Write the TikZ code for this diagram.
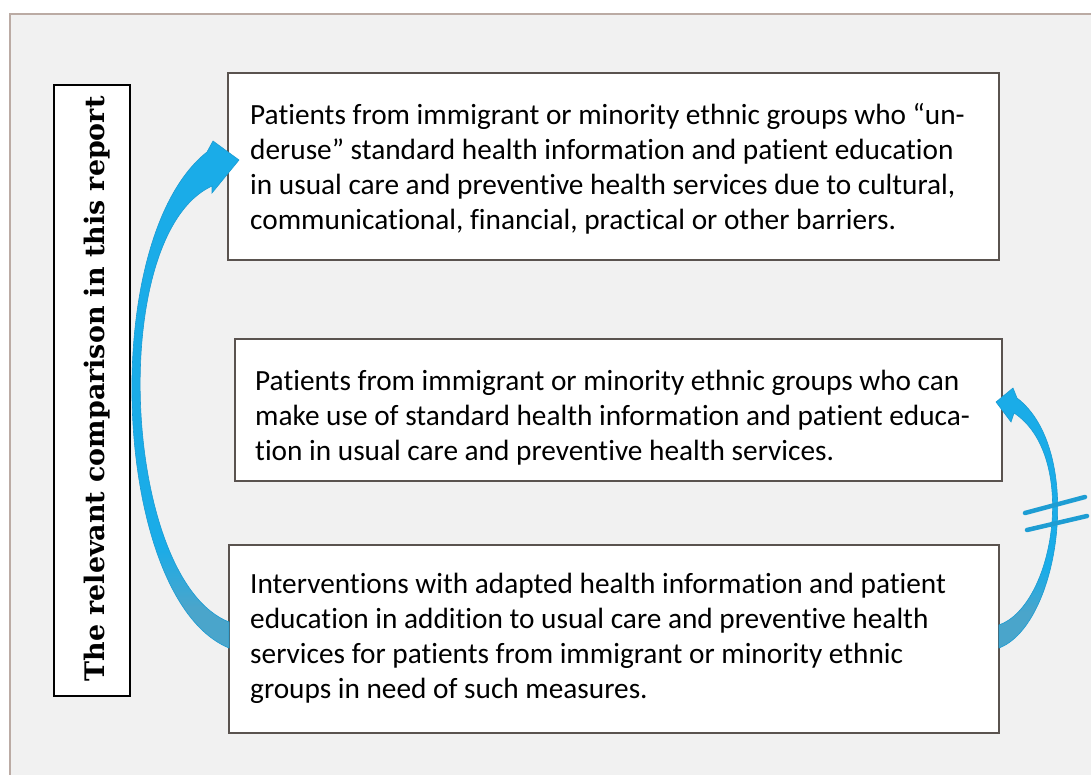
\documentclass[tikz,border=0pt]{standalone}
\usepackage{fontspec}
\setmainfont{Carlito}[Ligatures={TeX,NoCommon}]
\newfontfamily\labelfont{DejaVu Serif}

\definecolor{panel}{HTML}{F1F1F1}
\definecolor{framec}{HTML}{BBABA4}
\definecolor{boxline}{HTML}{5A534F}
\definecolor{arrowblue}{HTML}{1AACE8}
\definecolor{arrowteal}{HTML}{4AA5CB}
\definecolor{arrowedge}{HTML}{1B9BD2}
\definecolor{barblue}{HTML}{1E9DD3}

% shadings for the two curved block arrows (darker tail at the bottom)
\pgfdeclareverticalshading{leftshade}{100bp}{color(0bp)=(arrowteal); color(29bp)=(arrowteal); color(35bp)=(arrowblue); color(100bp)=(arrowblue)}
\pgfdeclareverticalshading{rightshade}{100bp}{color(0bp)=(arrowteal); color(32bp)=(arrowteal); color(40bp)=(arrowblue); color(100bp)=(arrowblue)}

\tikzset{
  textbox/.style={draw=boxline, line width=1.6pt, fill=white, inner sep=0pt, outer sep=0pt, anchor=north west},
  labelbox/.style={draw=black, line width=1.4pt, fill=white, inner sep=0pt, outer sep=0pt, anchor=north west},
  boxtext/.style={inner sep=0pt, anchor=base west, font=\fontsize{29.3}{35}\selectfont},
  blockarrow/.style={draw=arrowedge, line width=0.6pt},
  notequal/.style={draw=barblue, line width=4.5pt, line cap=round}
}

\begin{document}
\begin{tikzpicture}[x=1pt, y=-1pt]
  \useasboundingbox (0,0) rectangle (1091,775);
  \fill[white] (0,0) rectangle (1091,775);

  % grey panel with its frame on the left and top
  \fill[panel] (10,14) rectangle (1091,775);
  \draw[framec, line width=1.6pt] (10,775) -- (10,14) -- (1091,14);

  % vertical label
  \node[labelbox, minimum width=76pt, minimum height=611pt] (lbox) at (54,85) {};
  \node[rotate=90, anchor=base, inner sep=0pt] (lab) at (104,389)
    {\resizebox{585pt}{!}{\labelfont\bfseries\fontsize{26}{30}\selectfont The relevant comparison in this report}};

  % the three text boxes
  \node[textbox, minimum width=771pt, minimum height=187pt] (b1) at (228,73) {};
  \node[textbox, minimum width=767pt, minimum height=142pt] (b2) at (235,339) {};
  \node[textbox, minimum width=770pt, minimum height=188pt] (b3) at (229,545) {};

  \node[boxtext] (t1) at (250,125) {\vtop{%
    \hbox{Patients from immigrant or minority ethnic groups who “un-}
    \hbox{deruse” standard health information and patient education}
    \hbox{in usual care and preventive health services due to cultural,}
    \hbox{communicational, financial, practical or other barriers.}}};

  \node[boxtext] (t2) at (255,390) {\vtop{%
    \hbox{Patients from immigrant or minority ethnic groups who can}
    \hbox{make use of standard health information and patient educa-}
    \hbox{tion in usual care and preventive health services.}}};

  \node[boxtext] (t3) at (250,593) {\vtop{%
    \hbox{Interventions with adapted health information and patient}
    \hbox{education in addition to usual care and preventive health}
    \hbox{services for patients from immigrant or minority ethnic}
    \hbox{groups in need of such measures.}}};

  % left curved arrow: from the interventions box up to the top box
  \path[blockarrow, shading=leftshade]
    (229,648) .. controls (112,600) and (96,240) .. (207,152)
    -- (213,141) -- (239,160) -- (212,193) -- (212,186)
    .. controls (106,235) and (122,580) .. (229,622) -- cycle;

  % right curved arrow: from the interventions box up to the middle box
  \path[blockarrow, shading=rightshade]
    (999,648) .. controls (1060,625) and (1085,450) .. (1017,398)
    -- (1013,388) -- (996,402) -- (1011,422) -- (1014,413)
    .. controls (1078,455) and (1055,605) .. (999,625) -- cycle;

  % not-equal sign across the right arrow
  \coordinate (ne1a) at (1025,513);
  \coordinate (ne1b) at (1085,497);
  \coordinate (ne2a) at (1027,530);
  \coordinate (ne2b) at (1087,516);
  \draw[notequal] (ne1a) -- (ne1b);
  \draw[notequal] (ne2a) -- (ne2b);
\end{tikzpicture}
\end{document}
